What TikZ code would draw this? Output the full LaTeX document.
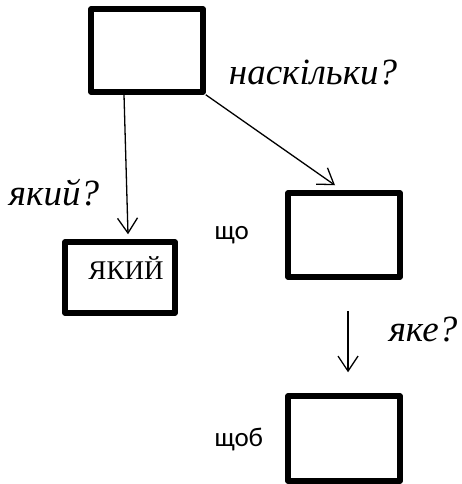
\documentclass[tikz,border=0pt]{standalone}
\usepackage{fontspec}
\setmainfont{Liberation Serif}
\newfontfamily\calibri{Carlito}
\usepackage{tikz}
\usetikzlibrary{arrows.meta}

\begin{document}
\begin{tikzpicture}[x=1pt,y=-1pt,
	box/.style={rectangle, draw, line width=5.5pt, line join=round, inner sep=0pt},
	ask/.style={font=\fontsize{37}{44}\selectfont\itshape},
	word/.style={font=\calibri\fontsize{27}{32}\selectfont, anchor=west},
	arr/.style={line width=1.3pt, -{Straight Barb[length=15pt,width=20pt,line width=1.3pt]}}]
	\useasboundingbox (0,0) rectangle (462,484);

	% верхній прямокутник
	\node (top) at (147,50.5) [box, minimum width=112pt, minimum height=83pt] {};
	\node (naskilky) at (313,73) [ask] {наскільки?};

	% прямокутник ЯКИЙ
	\node (yakyi) at (120,277.5) [box, minimum width=110pt, minimum height=71pt] {};
	\node (yakyitext) at (126,268) [font=\fontsize{27}{32}\selectfont] {ЯКИЙ};
	\node (yakyiq) at (54,193) [ask] {який?};
	\draw[arr] ([xshift=-23pt]top.south) -- ([xshift=8pt,yshift=5pt]yakyi.north);

	% прямокутник що
	\node (shcho) at (344,235) [box, minimum width=112pt, minimum height=84pt] {};
	\node (shchow) at (211,235) [word] {що};
	\draw[arr] (top.south east) -- ([xshift=-9pt,yshift=5pt]shcho.north);

	% прямокутник щоб
	\node (shchob) at (344,438.5) [box, minimum width=112pt, minimum height=85pt] {};
	\node (shchobw) at (211,440) [word] {щоб};
	\node (yake) at (423,330) [ask] {яке?};
	\draw[arr, shorten <=31pt, shorten >=21pt] ([xshift=4pt]shcho.south) -- ([xshift=4pt]shchob.north);
\end{tikzpicture}
\end{document}
